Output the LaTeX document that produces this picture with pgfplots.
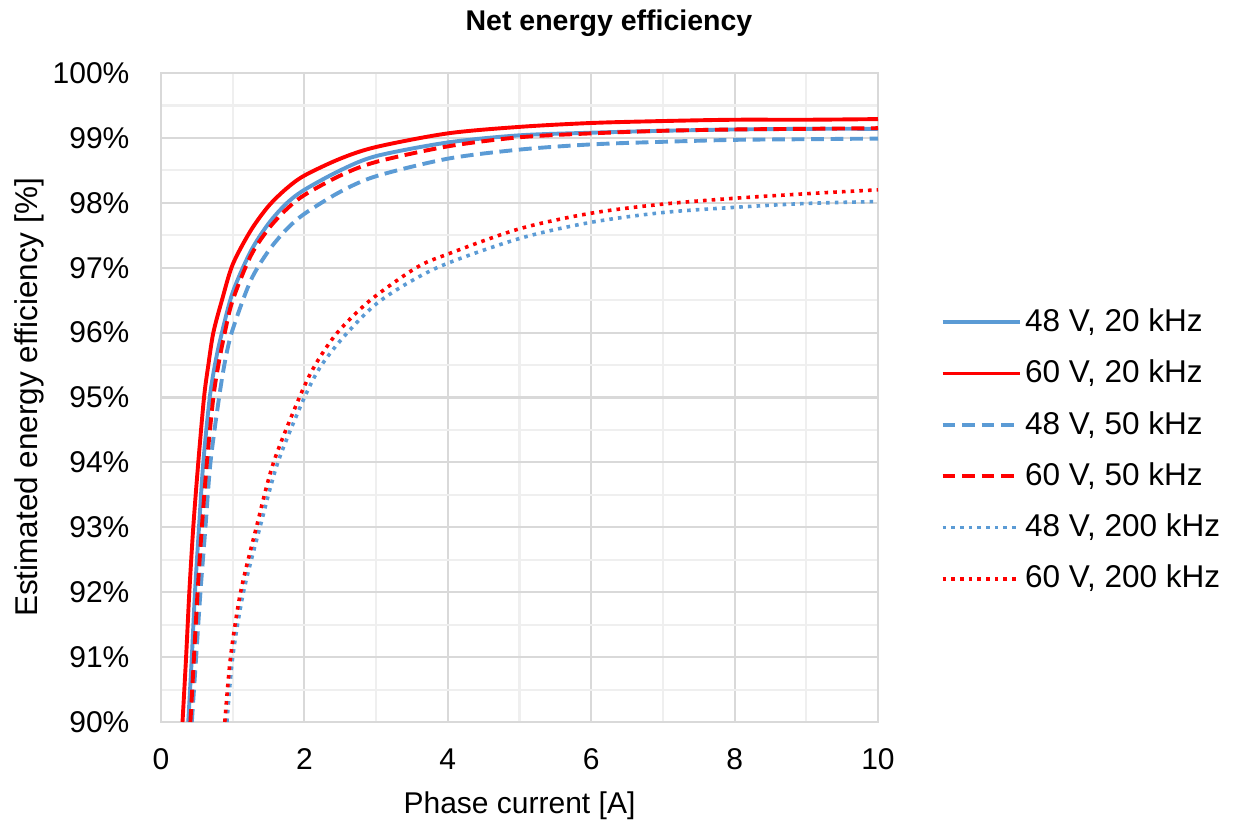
\documentclass[border=0pt]{standalone}
\usepackage{pgfplots}
\pgfplotsset{compat=1.18}
\usepackage{fontspec}
\setmainfont{Liberation Sans}

\definecolor{xlblue}{HTML}{5B9BD5}
\definecolor{xlred}{HTML}{FF0000}
\definecolor{majgrid}{HTML}{D9D9D9}
\definecolor{mingrid}{HTML}{EFEFEF}

\begin{document}
\begin{tikzpicture}
\useasboundingbox (-53.67pt,-35pt) rectangle (358.67pt,240.67pt);
\begin{axis}[
  scale only axis,
  width=239pt, height=216.33pt,
  xmin=0, xmax=10, ymin=90, ymax=100,
  xtick={0,2,...,10}, ytick={90,91,...,100},
  minor x tick num=1, minor y tick num=1,
  grid=both,
  major grid style={draw=majgrid, line width=0.7pt},
  minor grid style={draw=mingrid, line width=0.7pt},
  axis line style={draw=majgrid, line width=0.7pt},
  major tick length=0pt, minor tick length=0pt,
  /pgf/number format/assume math mode=true,
  tick label style={font=\fontsize{10}{12}\selectfont},
  yticklabel={\pgfmathprintnumber{\tick}\%},
  yticklabel style={xshift=-7pt},
  xticklabel style={yshift=-5.4pt},
  every axis title shift=0pt,
  title={Net energy efficiency},
  title style={at={(axis description cs:0.6248,1.0652)}, anchor=base,
    font=\bfseries\fontsize{9.5}{11}\selectfont},
  xlabel={Phase current [A]},
  xlabel style={at={(axis description cs:0.5,-0.1407)}, anchor=base,
    font=\fontsize{10}{12}\selectfont},
  ylabel={Estimated energy efficiency [\%]},
  ylabel style={at={(axis description cs:-0.172,0.5)}, anchor=base,
    font=\fontsize{10.5}{12}\selectfont},
  legend cell align=left,
  legend image code/.code={\draw[#1] (0pt,0pt) -- (25.7pt,0pt);},
  legend style={at={(axis description cs:1.0865,0.638)}, anchor=north west,
    draw=none, fill=none, inner sep=0pt, row sep=8pt,
    font=\fontsize{10.5}{12}\selectfont, nodes={inner sep=0pt},
    /tikz/every odd column/.append style={column sep=1.2pt}},
]
% 48 V, 20 kHz
\addplot[xlblue, line width=1.3pt, smooth, tension=0.5] coordinates {
(0.38,90) (0.43,91) (0.474,92) (0.53,93) (0.59,94) (0.68,95) (0.76,95.55)
(0.85,96) (1,96.62) (1.25,97.25) (1.5,97.68) (1.75,97.99) (2,98.2) (2.5,98.5)
(3,98.72) (4,98.93) (5,99.04) (6,99.08) (7,99.11) (8,99.13) (9,99.14) (10,99.14)};
% 60 V, 20 kHz
\addplot[xlred, line width=1.3pt, smooth, tension=0.5] coordinates {
(0.30,90) (0.35,91) (0.395,92) (0.45,93) (0.52,94) (0.60,95) (0.66,95.5)
(0.73,96) (0.85,96.5) (1,97.05) (1.25,97.57) (1.5,97.95) (1.75,98.22)
(2,98.42) (2.5,98.68) (3,98.86) (4,99.07) (5,99.17) (6,99.23) (7,99.26)
(8,99.28) (9,99.28) (10,99.29)};
% 48 V, 50 kHz
\addplot[xlblue, line width=1.3pt, dash pattern=on 4.3pt off 2.2pt, smooth, tension=0.5] coordinates {
(0.43,90) (0.49,91) (0.55,92) (0.62,93) (0.69,94) (0.81,95) (0.9,95.6)
(1,96.05) (1.25,96.8) (1.5,97.26) (1.75,97.59) (2,97.83) (2.5,98.17)
(3,98.41) (4,98.68) (5,98.82) (6,98.90) (7,98.94) (8,98.97) (9,98.98) (10,98.99)};
% 60 V, 50 kHz
\addplot[xlred, line width=1.3pt, dash pattern=on 4.3pt off 2.2pt, smooth, tension=0.5] coordinates {
(0.41,90) (0.46,91) (0.51,92) (0.57,93) (0.64,94) (0.73,95) (0.80,95.5)
(0.89,96) (1,96.5) (1.25,97.18) (1.5,97.6) (1.75,97.9) (2,98.12) (2.5,98.42)
(3,98.63) (4,98.87) (5,99.01) (6,99.07) (7,99.11) (8,99.13) (9,99.14) (10,99.15)};
% 48 V, 200 kHz
\addplot[xlblue, line width=1.2pt, dash pattern=on 1.2pt off 1.7pt, smooth, tension=0.5] coordinates {
(0.92,90) (1.00,91) (1.15,92) (1.38,93) (1.63,94) (2.00,95) (2.24,95.5)
(2.60,96) (3.07,96.5) (3.85,97) (5,97.45) (6,97.70) (7,97.85) (8,97.93)
(9,97.99) (10,98.02)};
% 60 V, 200 kHz
\addplot[xlred, line width=1.2pt, dash pattern=on 1.2pt off 1.7pt, smooth, tension=0.5] coordinates {
(0.89,90) (0.97,91) (1.11,92) (1.33,93) (1.57,94) (1.93,95) (2.15,95.5)
(2.46,96) (2.92,96.5) (3.56,97) (4,97.21) (5,97.60) (6,97.84) (7,97.98)
(8,98.07) (9,98.14) (10,98.20)};
\legend{{48 V, 20 kHz}, {60 V, 20 kHz}, {48 V, 50 kHz},
  {60 V, 50 kHz}, {48 V, 200 kHz}, {60 V, 200 kHz}}
\end{axis}
\end{tikzpicture}
\end{document}
